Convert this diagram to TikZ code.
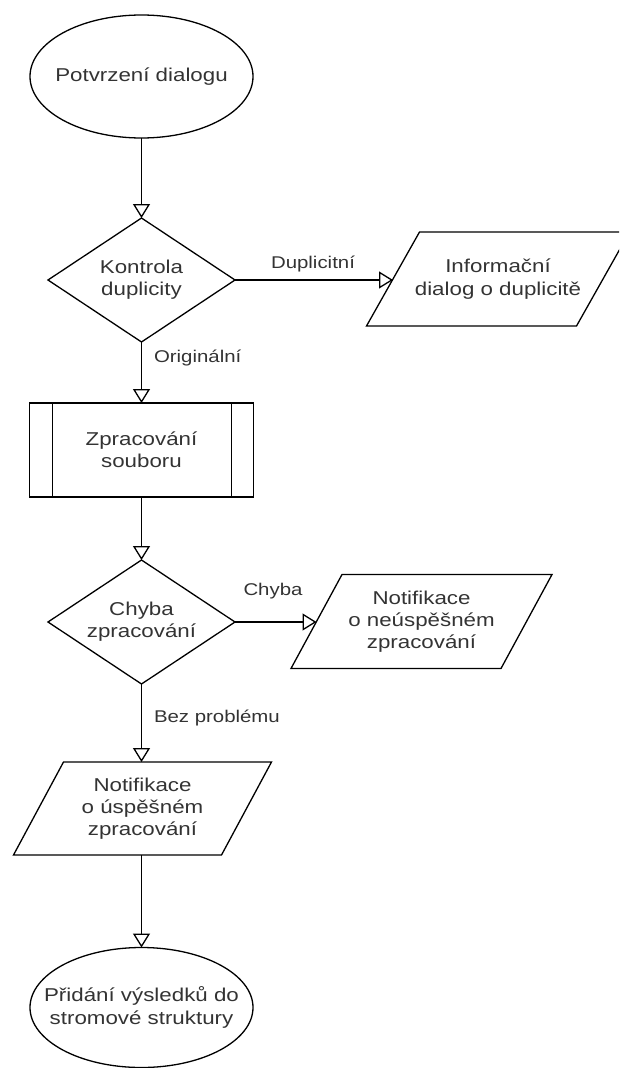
\documentclass[tikz,border=0pt]{standalone}
\usepackage{fontspec}
\setmainfont[FakeStretch=1.2]{Liberation Sans}
\usetikzlibrary{shapes.geometric,arrows.meta}
\begin{document}
\begin{tikzpicture}[x=1pt,y=-1pt,
  line width=1.3pt,
  every node/.style={inner sep=0pt, outer sep=0pt},
  txt/.style={align=center, font=\fontsize{18.6}{22.3}\selectfont, text=black!80},
  lbl/.style={font=\fontsize{17}{20}\selectfont, text=black!80},
  term/.style={ellipse, draw, minimum width=223pt, minimum height=123pt},
  dec/.style={diamond, draw, aspect=1.5, minimum width=187pt, minimum height=124pt},
  proc/.style={rectangle, draw, minimum width=224pt, minimum height=94pt},
  io/.style={rectangle, minimum width=210pt, minimum height=94pt},
  arr/.style={-{Triangle[open,length=14pt,width=17pt]}}
]
\useasboundingbox (0,0) rectangle (619,1068);
\clip (0,0) rectangle (619,1068);

% nodes
\node[term] (e1) at (141.5,76.5) {};
\node[txt] (e1t) at (e1.center) {Potvrzení dialogu};

\node[dec, txt] (d1) at (141.5,280) {Kontrola\\duplicity};

\node[io, txt] (p1) at (498,279) {Informační\\dialog o duplicitě};
\draw ([xshift=-26.5pt]p1.south west) -- ([xshift=26.5pt]p1.north west)
   -- ([xshift=26.5pt]p1.north east) -- ([xshift=-26.5pt]p1.south east) -- cycle;

\node[proc, txt] (b) at (141.5,450) {Zpracování\\souboru};
\draw ([xshift=23pt]b.north west) -- ([xshift=23pt]b.south west);
\draw ([xshift=-22pt]b.north east) -- ([xshift=-22pt]b.south east);

\node[dec, txt] (d2) at (141.5,622) {Chyba\\zpracování};

\node[io, txt] (p2) at (421.5,621.5) {Notifikace\\o neúspěšném\\zpracování};
\draw ([xshift=-25.5pt]p2.south west) -- ([xshift=25.5pt]p2.north west)
   -- ([xshift=25.5pt]p2.north east) -- ([xshift=-25.5pt]p2.south east) -- cycle;

\node[io, txt, minimum width=208pt, minimum height=93pt] (p3) at (142.5,808.5) {Notifikace\\o úspěšném\\zpracování};
\draw ([xshift=-25pt]p3.south west) -- ([xshift=25pt]p3.north west)
   -- ([xshift=25pt]p3.north east) -- ([xshift=-25pt]p3.south east) -- cycle;

\node[term, minimum height=120pt] (e2) at (141.5,1007.5) {};
\node[txt] (e2t) at (e2.center) {Přidání výsledků do\\stromové struktury};

% labels
\node[lbl, anchor=base] (l1) at (313,268) {Duplicitní};
\node[lbl, anchor=base west] (l2) at (154,362) {Originální};
\node[lbl, anchor=base] (l3) at (273,595) {Chyba};
\node[lbl, anchor=base west] (l4) at (154,722) {Bez problému};

% connectors
\draw[arr] (e1.south) -- (d1.north);
\draw[arr] (d1.east) -- (d1.east -| p1.west);
\draw[arr] (d1.south) -- (b.north);
\draw[arr] (b.south) -- (d2.north);
\draw[arr] (d2.east) -- (d2.east -| p2.west);
\draw[arr] (d2.south) -- (d2.south |- p3.north);
\draw[arr] (p3.south -| e2.north) -- (e2.north);
\end{tikzpicture}
\end{document}
